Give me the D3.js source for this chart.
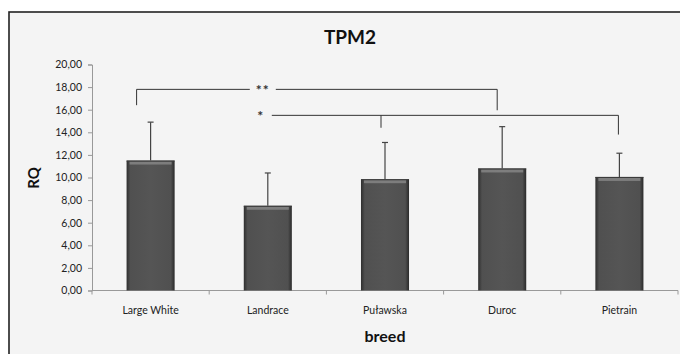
<!DOCTYPE html>
<html>
<head>
<meta charset="utf-8">
<title>TPM2</title>
<style>
  body { margin: 0; background: #fff; }
  text { font-family: Lato, "Open Sans", sans-serif; }
</style>
</head>
<body>
<script src="https://d3js.org/d3.v7.min.js"></script>
<svg width="680" height="354" id="mainsvg"></svg>
<script>
// data
const breeds = ["Large White", "Landrace", "Puławska", "Duroc", "Pietrain"];
const rq = [11.5, 7.5, 9.85, 10.8, 10.05];
const sd = [3.4, 2.9, 3.25, 3.7, 2.1];
const yTicks = [0, 2, 4, 6, 8, 10, 12, 14, 16, 18, 20];

// significance brackets: level, label, legs (category, offset, bottom value)
const sigLabels = ["**", "*"];
const sigLevels = [17.8, 15.5];
const sigLegs = [
  [["Large White", -14, 16.4], ["Duroc", -5, 15.95]],
  [["Puławska", -4, 14.4], ["Pietrain", -1, 13.8]]
];

const svg = d3.select('#mainsvg');
const W = 680, H = 354;

// frame
svg.append("rect").attr("x", 9).attr("y", 12).attr("width", W).attr("height", H)
  .attr("fill", "#f4f4f4").attr("stroke", "#222").attr("stroke-width", 1.6);

const x = d3.scaleBand().domain(breeds).range([92, 678])
  .paddingInner(0.59).paddingOuter(0.295);
const y = d3.scaleLinear().domain([0, 20]).range([290.5, 64.5]);

const loc = d3.formatLocale({decimal: ",", thousands: ".", grouping: [3], currency: ["", ""]});
const fmt = loc.format(".2f");

// bar gradient
const defs = svg.append("defs");
const gh = defs.append("linearGradient").attr("id", "barH");
gh.append("stop").attr("offset", "0%").attr("stop-color", "#2e2e2e");
gh.append("stop").attr("offset", "8%").attr("stop-color", "#505050");
gh.append("stop").attr("offset", "50%").attr("stop-color", "#555");
gh.append("stop").attr("offset", "92%").attr("stop-color", "#505050");
gh.append("stop").attr("offset", "100%").attr("stop-color", "#2a2a2a");

// y axis
const yAxis = svg.append("g").attr("transform", "translate(92,0)")
  .call(d3.axisLeft(y).tickValues(yTicks).tickFormat(fmt).tickSize(4).tickPadding(6));
yAxis.select(".domain").attr("stroke", "#999");
yAxis.selectAll(".tick line").attr("stroke", "#999");
yAxis.selectAll(".tick text").attr("fill", "#222").style("font-size", "10.5px")
  .style("font-family", "Lato, sans-serif");

// x axis (ticks between categories)
const bounds = breeds.map(b => x(b) - x.step() * x.paddingInner() / 2);
bounds.push(678);
const xg = svg.append("g");
xg.append("line").attr("x1", 92).attr("x2", 678).attr("y1", y(0)).attr("y2", y(0))
  .attr("stroke", "#999");
xg.selectAll(".xt").data(bounds).join("line").attr("class", "xt")
  .attr("x1", d => d).attr("x2", d => d).attr("y1", y(0)).attr("y2", y(0) + 4)
  .attr("stroke", "#999");
xg.selectAll(".xl").data(breeds).join("text").attr("class", "xl")
  .attr("x", d => x(d) + x.bandwidth() / 2).attr("y", 314)
  .attr("text-anchor", "middle").attr("fill", "#222").style("font-size", "10.5px")
  .text(d => d);

// error bars (up only)
const eb = svg.append("g").attr("stroke", "#444").attr("stroke-width", 1.2);
breeds.forEach((b, i) => {
  const cx = x(b) + x.bandwidth() / 2;
  eb.append("line").attr("x1", cx).attr("x2", cx).attr("y1", y(rq[i])).attr("y2", y(rq[i] + sd[i]));
  eb.append("line").attr("x1", cx - 3).attr("x2", cx + 3).attr("y1", y(rq[i] + sd[i])).attr("y2", y(rq[i] + sd[i]));
});

// bars
const bars = svg.append("g").selectAll("g").data(breeds).join("g");
bars.append("rect")
  .attr("x", d => x(d)).attr("width", x.bandwidth())
  .attr("y", (d, i) => y(rq[i])).attr("height", (d, i) => y(0) - y(rq[i]))
  .attr("fill", "url(#barH)");
bars.append("rect")
  .attr("x", d => x(d) + 3).attr("width", x.bandwidth() - 6)
  .attr("y", (d, i) => y(rq[i]) + 1).attr("height", 3)
  .attr("fill", "#888").attr("opacity", 0.8);
bars.append("rect")
  .attr("x", d => x(d)).attr("width", x.bandwidth())
  .attr("y", (d, i) => y(rq[i])).attr("height", 1)
  .attr("fill", "#3a3a3a");

// significance brackets
const sg = svg.append("g");
sigLabels.forEach((lab, k) => {
  const legs = sigLegs[k];
  const x0 = x(legs[0][0]) + x.bandwidth() / 2 + legs[0][1];
  const x1 = x(legs[1][0]) + x.bandwidth() / 2 + legs[1][1];
  const ly = y(sigLevels[k]);
  const tx = x("Landrace") + x.bandwidth() / 2 - (k === 0 ? 5 : 7);
  const gap = k === 0 ? 13 : 11;
  if (k === 0) {
    sg.append("line").attr("x1", x0).attr("x2", tx - gap).attr("y1", ly).attr("y2", ly);
  }
  sg.append("line").attr("x1", tx + gap).attr("x2", x1).attr("y1", ly).attr("y2", ly);
  legs.forEach(([c, off, bot]) => {
    const lx = x(c) + x.bandwidth() / 2 + off;
    sg.append("line").attr("x1", lx).attr("x2", lx).attr("y1", ly).attr("y2", y(bot));
  });
  sg.append("text").attr("x", tx).attr("y", ly + 6).attr("text-anchor", "middle")
    .attr("fill", "#333").style("font-size", "14px").style("font-weight", "bold")
    .style("letter-spacing", "1px").text(lab);
});
sg.selectAll("line").attr("stroke", "#333").attr("stroke-width", 1);

// titles
svg.append("text").attr("x", 350).attr("y", 44).attr("text-anchor", "middle")
  .style("font-size", "19px").style("font-weight", "bold").attr("fill", "#111").text("TPM2");
svg.append("text").attr("x", 385).attr("y", 342).attr("text-anchor", "middle")
  .style("font-size", "16px").style("font-weight", "bold").attr("fill", "#111").text("breed");
svg.append("text").attr("transform", "translate(39,178) rotate(-90)").attr("text-anchor", "middle")
  .style("font-size", "15px").style("font-weight", "bold").attr("fill", "#111").text("RQ");
</script>
</body>
</html>
